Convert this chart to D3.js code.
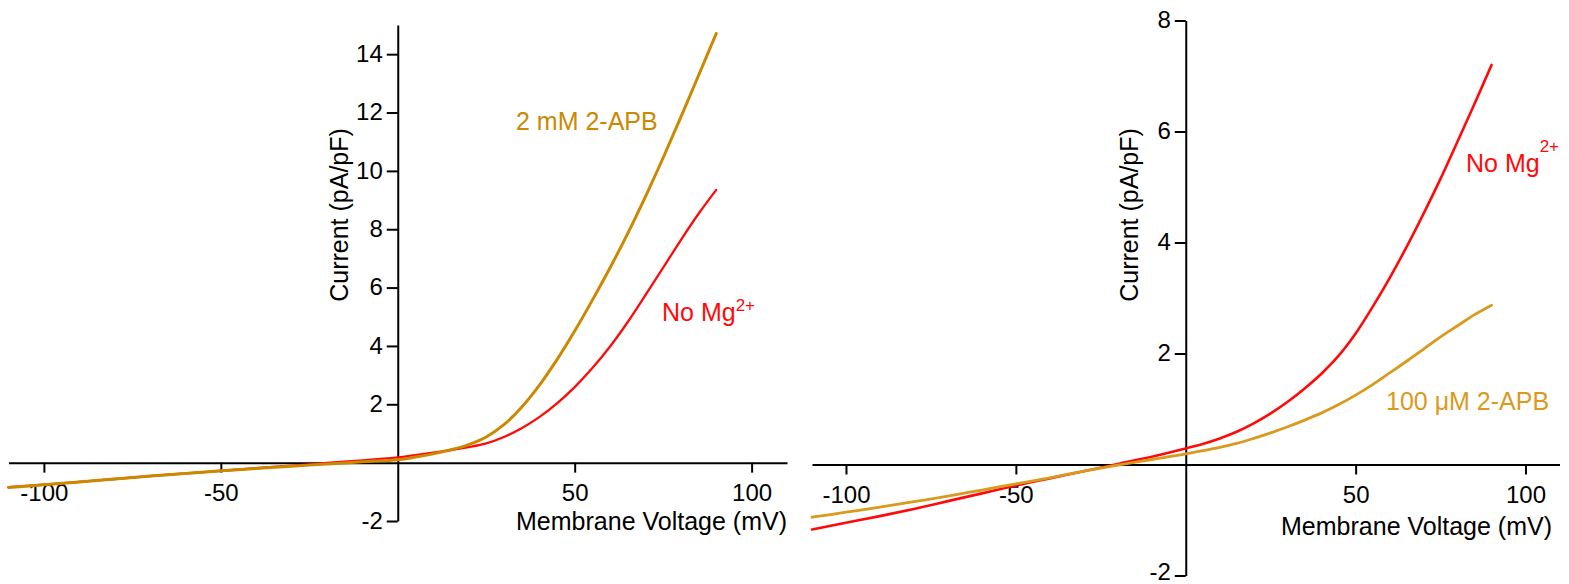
<!DOCTYPE html>
<html>
<head>
<meta charset="utf-8">
<script src="https://cdn.jsdelivr.net/npm/d3@7"></script>
<style>
  html, body { margin: 0; padding: 0; background: #fff; }
  svg { display: block; font-family: "Liberation Sans", Arial, sans-serif; }
</style>
</head>
<body>
<svg id="chart" width="1569" height="584"></svg>
<script>
// ---- Data (membrane voltage in mV, current density in pA/pF) ----
const voltages = [-110,-100,-90,-80,-70,-60,-50,-40,-30,-20,-10,0,5,10,15,20,25,30,35,40,45,50,55,60,65,70,75,80,85,90];

// Left panel
const leftNoMg    = [-0.84,-0.75,-0.66,-0.56,-0.46,-0.37,-0.28,-0.19,-0.1,-0.01,0.08,0.18,0.26,0.34,0.43,0.53,0.66,0.88,1.18,1.56,2.03,2.59,3.24,3.98,4.82,5.74,6.68,7.63,8.53,9.35];
const leftApb2mM  = [-0.85,-0.76,-0.66,-0.56,-0.46,-0.37,-0.28,-0.2,-0.12,-0.05,0.03,0.1,0.19,0.3,0.44,0.62,0.88,1.3,1.9,2.65,3.53,4.51,5.57,6.68,7.86,9.12,10.45,11.84,13.27,14.71];

// Right panel
const rightNoMg     = [-1.17,-1.05,-0.93,-0.8,-0.66,-0.52,-0.38,-0.25,-0.12,0.01,0.14,0.29,0.37,0.47,0.59,0.74,0.92,1.13,1.37,1.64,1.96,2.36,2.84,3.36,3.92,4.52,5.15,5.82,6.5,7.2];
const rightApb100uM = [-0.95,-0.86,-0.77,-0.67,-0.57,-0.46,-0.35,-0.24,-0.12,-0.01,0.09,0.19,0.25,0.31,0.38,0.47,0.57,0.68,0.8,0.93,1.08,1.25,1.44,1.65,1.86,2.08,2.3,2.5,2.7,2.87];

// Tick labels
const xTicks = [-100, -50, 50, 100];
const leftYTicks = [-2, 2, 4, 6, 8, 10, 12, 14];
const rightYTicks = [-2, 2, 4, 6, 8];

const xTitle = "Membrane Voltage (mV)";
const yTitle = "Current (pA/pF)";

const RED = "#ff0a0a";
const GOLD_DARK = "#cc8800";
const GOLD_LIGHT = "#d99a1e";

const svg = d3.select("#chart");
svg.append("rect").attr("width", 1569).attr("height", 584).attr("fill", "#fff");

const fmt = d => String(d); // plain hyphen-minus as in the original

function panel(cfg) {
  const g = svg.append("g");
  const x = d3.scaleLinear().domain([-110, 110]).range(cfg.xRange);
  const y = d3.scaleLinear().domain(cfg.yDomain).range(cfg.yRange);

  // x axis at y = 0
  const xAxis = d3.axisBottom(x).tickValues(xTicks).tickSize(10).tickSizeOuter(0).tickPadding(11)
    .tickFormat(fmt);
  const gx = g.append("g").attr("transform", `translate(0,${y(0)})`).call(xAxis);

  // y axis at x = 0
  const yAxis = d3.axisLeft(y).tickValues(cfg.yTicks).tickSize(11).tickSizeOuter(0).tickPadding(4)
    .tickFormat(fmt);
  const gy = g.append("g").attr("transform", `translate(${x(0)},0)`).call(yAxis);

  [gx, gy].forEach(a => {
    a.select(".domain").attr("stroke", "#000").attr("stroke-width", 2);
    a.selectAll(".tick line").attr("stroke", "#000").attr("stroke-width", 2);
    a.selectAll(".tick text").attr("fill", "#000").style("font-size", "24px")
      .style("font-family", '"Liberation Sans", Arial, sans-serif');
  });
  gy.selectAll(".tick text").attr("dy", "0.3em");
  if (cfg.lowLabelShift) {
    gy.selectAll(".tick text").filter(d => d === cfg.yDomain[0]).attr("y", -cfg.lowLabelShift);
  }

  // Curves
  const line = d3.line().x((d, i) => x(voltages[i])).y(d => y(d)).curve(d3.curveCatmullRom.alpha(0.5));
  cfg.series.forEach(s => {
    g.append("path").datum(s.values)
      .attr("fill", "none").attr("stroke", s.color).attr("stroke-width", s.width)
      .attr("stroke-linejoin", "round").attr("stroke-linecap", "round")
      .attr("d", line);
  });

  // Axis titles
  g.append("text").attr("x", cfg.xTitlePos[0]).attr("y", cfg.xTitlePos[1])
    .attr("text-anchor", "end").style("font-size", "25px").attr("fill", "#000").text(xTitle);
  g.append("text")
    .attr("transform", `translate(${cfg.yTitlePos[0]},${cfg.yTitlePos[1]}) rotate(-90)`)
    .attr("text-anchor", "middle").style("font-size", "25px").attr("fill", "#000").text(yTitle);

  // Annotations
  cfg.labels.forEach(l => {
    const t = g.append("text").attr("x", l.x).attr("y", l.y).attr("fill", l.color)
      .style("font-size", "25px");
    t.append("tspan").text(l.text);
    if (l.sup) {
      t.append("tspan").attr("dy", l.supDy).style("font-size", "17px").text(l.sup);
    }
  });
}

panel({
  xRange: [8.5, 787],
  yDomain: [-2, 15], yRange: [521, 25],
  yTicks: leftYTicks,
  xTitlePos: [787, 530],
  yTitlePos: [348, 215],
  series: [
    { values: leftNoMg, color: RED, width: 2.3 },
    { values: leftApb2mM, color: GOLD_DARK, width: 3 }
  ],
  labels: [
    { text: "2 mM 2-APB", x: 516, y: 129.5, color: GOLD_DARK },
    { text: "No Mg", sup: "2+", supDy: -10, x: 662, y: 321, color: RED }
  ]
});

panel({
  xRange: [812, 1559.5],
  yDomain: [-2, 8], yRange: [575.5, 20.5],
  yTicks: rightYTicks,
  lowLabelShift: 3,
  xTitlePos: [1552, 535],
  yTitlePos: [1138, 215],
  series: [
    { values: rightNoMg, color: RED, width: 2.6 },
    { values: rightApb100uM, color: GOLD_LIGHT, width: 2.8 }
  ],
  labels: [
    { text: "No Mg", sup: "2+", supDy: -20, x: 1466, y: 171.5, color: RED },
    { text: "100 \u03BCM 2-APB", x: 1386, y: 409.5, color: GOLD_LIGHT }
  ]
});
</script>
</body>
</html>
